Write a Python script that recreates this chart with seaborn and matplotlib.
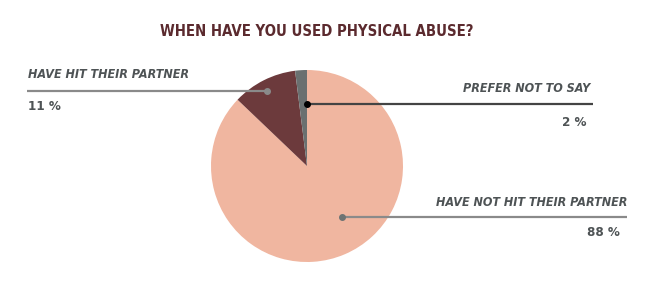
import matplotlib
matplotlib.use("Agg")
import matplotlib.pyplot as plt
import seaborn as sns

sns.set_theme(style="white")
plt.rcParams['font.family'] = ['DejaVu Sans']

# Data
categories = ["HAVE NOT HIT THEIR PARTNER", "HAVE HIT THEIR PARTNER", "PREFER NOT TO SAY"]
values = [88, 11, 2]
value_labels = ["88 %", "11 %", "2 %"]
colors = ["#F0B6A0", "#6C3A3C", "#6A7070"]

title = "WHEN HAVE YOU USED PHYSICAL ABUSE?"

W, H = 650, 304
fig = plt.figure(figsize=(W / 100, H / 100), dpi=100)
fig.patch.set_facecolor("white")
ax = fig.add_axes([0, 0, 1, 1])
ax.set_xlim(0, W)
ax.set_ylim(H, 0)
ax.set_aspect("equal")
ax.axis("off")

# Pie (y axis inverted -> counterclock=True renders clockwise on screen)
ax.pie(values, colors=colors, startangle=-90, counterclock=True,
       center=(307, 166), radius=96, wedgeprops=dict(linewidth=0))
ax.set_xlim(0, W)
ax.set_ylim(H, 0)

ax.text(317, 31, title, ha="center", va="center", fontsize=10.7,
        fontweight="heavy", color="#5B2A2E", fontstretch="condensed")

lab_kw = dict(fontsize=9, fontweight="bold", fontstyle="italic",
              color="#4E5355", fontstretch="condensed")
val_kw = dict(fontsize=9.5, fontweight="bold", color="#4E5355",
              fontstretch="condensed")

# Have hit their partner (left)
ax.plot([27, 267], [91, 91], color="#8A8A8A", lw=1.6, solid_capstyle="butt")
ax.plot([267], [91], "o", color="#8A8A8A", ms=4)
ax.text(28, 74, categories[1], ha="left", va="center", **lab_kw)
ax.text(28, 107, value_labels[1], ha="left", va="center", **val_kw)

# Prefer not to say (right, upper)
ax.plot([307, 593], [104, 104], color="#444444", lw=1.6, solid_capstyle="butt")
ax.plot([307], [104], "o", color="black", ms=4)
ax.text(590, 89, categories[2], ha="right", va="center", **lab_kw)
ax.text(587, 122, value_labels[2], ha="right", va="center", **val_kw)

# Have not hit their partner (right, lower)
ax.plot([342, 627], [217, 217], color="#8A8A8A", lw=1.6, solid_capstyle="butt")
ax.plot([342], [217], "o", color="#6E7373", ms=4)
ax.text(627, 203, categories[0], ha="right", va="center", **lab_kw)
ax.text(620, 233, value_labels[0], ha="right", va="center", **val_kw)

fig.savefig("out.png", dpi=100, facecolor="white")
